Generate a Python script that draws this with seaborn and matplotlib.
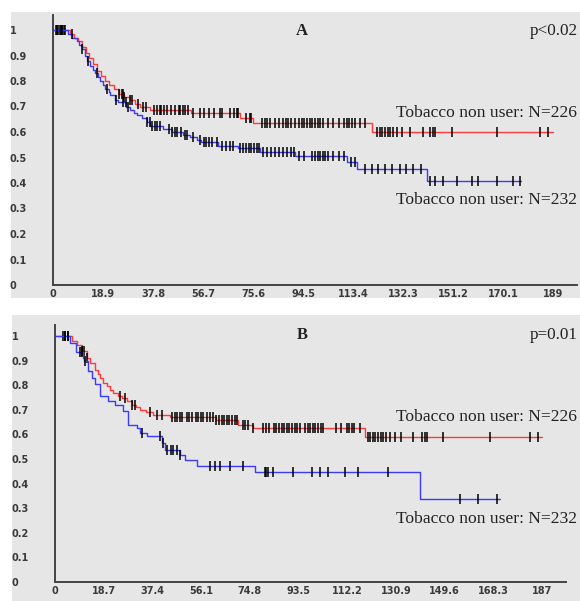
import numpy as np
import pandas as pd
import matplotlib.pyplot as plt
import seaborn as sns
from matplotlib.patches import Rectangle

# ---- Panel A: step curves (time a step starts, survival from that time on) ----
a_red_t = [0, 6.4, 8, 9.5, 11, 12.5, 13.5, 15, 16.5, 18, 19.5, 21, 23, 25, 27, 29, 31, 33,
           36.7, 52, 70.7, 75.6, 120.6, 189]
a_red_s = [1, 0.985, 0.97, 0.955, 0.935, 0.91, 0.89, 0.865, 0.84, 0.82, 0.80, 0.785, 0.77,
           0.75, 0.738, 0.725, 0.71, 0.70, 0.686, 0.675, 0.655, 0.635, 0.60, 0.60]
a_blue_t = [0, 5.7, 7.2, 9, 10, 11, 12, 13, 14, 15, 15.9, 17, 17.8, 19, 19.7, 21, 21.5, 23.4,
            24.5, 27.6, 29, 30.5, 31.7, 33.5, 35.5, 36.7, 41.6, 45, 49, 51.8, 54.4, 56, 62.4,
            70, 78.2, 91.5, 111, 115, 141.4, 177]
a_blue_s = [1, 0.985, 0.97, 0.955, 0.94, 0.925, 0.90, 0.88, 0.86, 0.845, 0.83, 0.815, 0.80,
            0.785, 0.77, 0.755, 0.745, 0.725, 0.717, 0.70, 0.686, 0.675, 0.667, 0.655, 0.64,
            0.624, 0.612, 0.60, 0.59, 0.58, 0.568, 0.56, 0.546, 0.536, 0.523, 0.506, 0.484,
            0.454, 0.408, 0.408]
a_red_cens = [1, 2, 3, 3.5, 4, 4.5, 25, 26, 26.5, 27, 29, 30, 32, 34, 35, 38, 39.5, 40.5, 41,
              42, 43, 44.5, 46, 47.5, 48, 49, 50, 51, 53, 55.5, 57, 59, 61, 63, 64, 67, 68.5,
              69.5, 70, 73, 74.5, 75, 79, 80, 81, 82, 84, 85.5, 87, 88, 89, 90, 91.5, 93, 94,
              95, 96, 97, 98, 99, 100, 101, 102, 104, 106, 108, 110, 111, 112, 113, 114, 116,
              118, 122.5, 123.5, 124.5, 125.5, 126.5, 127.5, 128.5, 130, 132, 135, 140, 142.5,
              143.5, 144.4, 151, 168, 184, 187]
a_blue_cens = [1.5, 2.5, 3.5, 7, 11, 13.4, 16.6, 20.4, 24, 26.5, 27.5, 28.5, 35.5, 36.5, 37.5,
               38.5, 39.5, 40.4, 44, 45, 46, 47, 48.5, 50, 50.6, 53, 55.6, 57, 58, 59, 60, 62,
               64, 65.5, 67, 68, 70.7, 72, 73, 74, 75, 76, 77, 78, 79.5, 81, 82.5, 84, 85.5,
               87, 88.5, 90, 91, 93, 95, 98, 99, 100, 101, 102, 103, 104, 106, 108, 110, 112.5,
               114, 118, 120.5, 123, 125.5, 128, 131, 133.5, 136, 139, 142.5, 144.4, 147.4,
               152.7, 158.4, 160.7, 167.8, 173.9, 176.5]
a_xticks = [0, 18.9, 37.8, 56.7, 75.6, 94.5, 113.4, 132.3, 151.2, 170.1, 189]

# ---- Panel B ----
b_red_t = [0, 6.4, 8.3, 10.3, 12.2, 13.4, 15.4, 16.5, 17.3, 18.5, 19.8, 21, 22.4, 24, 25.6,
           27.5, 29.4, 31, 32.6, 35, 37.7, 44, 62, 70.3, 76, 119, 187]
b_red_s = [1, 0.98, 0.965, 0.938, 0.91, 0.89, 0.863, 0.845, 0.83, 0.81, 0.795, 0.78, 0.768,
           0.758, 0.748, 0.735, 0.72, 0.71, 0.70, 0.69, 0.68, 0.672, 0.659, 0.638, 0.625,
           0.59, 0.59]
b_blue_t = [0, 5.8, 8.1, 10.6, 11.3, 12.8, 14.1, 15.4, 17.3, 20.5, 23, 26.2, 28.2, 31.4, 32.6,
            35.2, 41, 42.2, 48, 50, 54.4, 76.8, 140, 171]
b_blue_s = [1, 0.97, 0.935, 0.91, 0.897, 0.857, 0.83, 0.805, 0.755, 0.735, 0.72, 0.694, 0.64,
            0.626, 0.606, 0.592, 0.565, 0.538, 0.518, 0.497, 0.473, 0.448, 0.336, 0.336]
b_red_cens = [3, 4, 5, 10.4, 11.2, 12.3, 25, 27, 29.5, 30.8, 36.5, 39, 41, 45, 46, 47, 48,
              48.8, 50.7, 51.5, 52.5, 54, 55, 56, 56.8, 58.4, 59.5, 60.7, 62, 63, 64, 65, 66,
              67, 68, 69, 70, 72, 73, 74, 76, 80, 81, 82, 84, 85, 86, 87, 88, 89, 90, 91, 92,
              93, 94, 96, 97, 98, 99, 100, 101, 102, 103, 108, 110, 112, 113, 114, 115, 117,
              120, 121, 122, 123, 124, 125, 126, 127, 128.6, 130.5, 133, 137.5, 141, 142, 143,
              149, 167, 182.4, 185.5]
b_blue_cens = [3.8, 5, 9.6, 10.5, 11.5, 33.4, 40.3, 41.5, 43, 44.5, 45.5, 46.8, 48, 59.5, 61.4,
               63.4, 67.2, 72.2, 80.6, 81.2, 81.8, 83.7, 91.4, 98.7, 101.8, 104.8, 111.4, 116.4,
               127.9, 155.5, 162.4, 169.7]
b_xticks = [0, 18.7, 37.4, 56.1, 74.8, 93.5, 112.2, 130.9, 149.6, 168.3, 187]

yticks = [0, 0.1, 0.2, 0.3, 0.4, 0.5, 0.6, 0.7, 0.8, 0.9, 1]
label_226 = 'Tobacco non user: N=226'
label_232 = 'Tobacco non user: N=232'

RED = '#ff3b3b'
BLUE = '#3b3bff'
BG = '#e6e6e6'
W, H = 580, 601

sns.set_style('white')
plt.rcParams['font.family'] = ['DejaVu Sans']

fig = plt.figure(figsize=(W / 100, H / 100), dpi=100)
fig.patch.set_facecolor('white')


def fx(px):
    return px / W


def fy(py):
    return 1 - py / H


def step_value(t, s, x):
    idx = np.searchsorted(t, x, side='right') - 1
    return np.asarray(s)[idx]


def draw_panel(box, bg, curves, xticks, xmax, ymax, letter, pval, text_y):
    fig.patches.append(Rectangle((fx(bg[0]), fy(bg[3])), fx(bg[2] - bg[0]), (bg[3] - bg[1]) / H,
                                 transform=fig.transFigure, facecolor=BG, edgecolor='none',
                                 zorder=-5))
    x0, x1, y0, y1 = box
    ax = fig.add_axes([fx(x0), fy(y0), fx(x1 - x0), (y0 - y1) / H])
    ax.set_facecolor('none')
    ax.set_zorder(2)
    for t, s, cens, col in curves:
        df = pd.DataFrame({'time': t, 'surv': s})
        sns.lineplot(data=df, x='time', y='surv', color=col, lw=1.0, drawstyle='steps-post',
                     estimator=None, sort=False, ax=ax)
        ax.plot(cens, step_value(t, s, cens), ls='none', marker='|', ms=6.5, mew=1.1,
                color='black')
    ax.set_xlim(0, xmax)
    ax.set_ylim(0, ymax)
    ax.set_xlabel('')
    ax.set_ylabel('')
    ax.set_xticks(xticks)
    ax.set_xticklabels([f'{v:g}' for v in xticks], fontweight='bold')
    ax.set_yticks(yticks)
    ax.set_yticklabels([f'{v:g}' for v in yticks], ha='left', fontweight='bold')
    ax.tick_params(axis='both', direction='in', length=4, width=1, color='#444444',
                   labelsize=7, labelcolor='#3a3a3a')
    ax.tick_params(axis='y', pad=31)
    ax.tick_params(axis='x', pad=3)
    for side in ['top', 'right']:
        ax.spines[side].set_visible(False)
    for side in ['left', 'bottom']:
        ax.spines[side].set_color('#444444')
        ax.spines[side].set_linewidth(1.4)
    serif = ['Liberation Serif', 'DejaVu Serif']
    fig.text(fx(302), fy(text_y[0]), letter, ha='center', va='baseline', fontsize=12,
             fontweight='bold', family=serif, color='#222222')
    fig.text(fx(578), fy(text_y[0]), pval, ha='right', va='baseline', fontsize=12.3,
             family=serif, color='#222222')
    fig.text(fx(577), fy(text_y[1]), label_226, ha='right', va='baseline', fontsize=12.6,
             family=serif, color='#222222')
    fig.text(fx(577), fy(text_y[2]), label_232, ha='right', va='baseline', fontsize=12.6,
             family=serif, color='#222222')
    return ax


draw_panel((53, 577, 285, 15), (11, 12, 580, 298),
           [(a_red_t, a_red_s, a_red_cens, RED), (a_blue_t, a_blue_s, a_blue_cens, BLUE)],
           a_xticks, 524 / 50 * 18.9, (285 - 15) / 255, 'A', 'p<0.02', (35, 117, 204))
draw_panel((55, 566, 582, 325), (12, 315, 580, 601),
           [(b_red_t, b_red_s, b_red_cens, RED), (b_blue_t, b_blue_s, b_blue_cens, BLUE)],
           b_xticks, 511 / 48.7 * 18.7, (582 - 325) / 246, 'B', 'p=0.01', (339, 421, 523))

fig.savefig('out.png', dpi=100, facecolor='white')
